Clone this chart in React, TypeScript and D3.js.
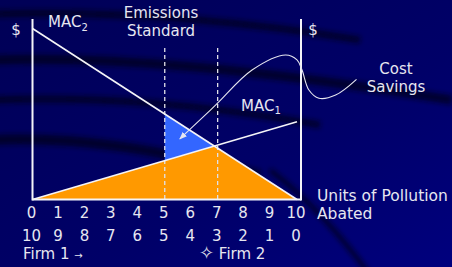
import React from 'react'
import * as d3 from 'd3'

// units abated by firm 1 (top row) and by firm 2 (bottom row)
const firm1Ticks = [0, 1, 2, 3, 4, 5, 6, 7, 8, 9, 10]
const firm2Ticks = [10, 9, 8, 7, 6, 5, 4, 3, 2, 1, 0]

// marginal abatement cost curves, [units, $]
const mac1 = [[0, 0], [10, 4.55]]
const mac2 = [[0, 10], [10, 0]]

// emissions standard: each firm abates 5 / 7
const standards = [5, 7]

// "Cost Savings" callout, in chart units (points of the hand drawn curve)
const calloutPts = [
  [12.25, 7.03], [11.46, 6.11], [10.83, 5.92], [10.45, 6.4], [10.19, 7.57],
  [10.0, 8.16], [9.57, 8.45], [8.3, 7.57], [6.93, 5.53], [5.92, 4.06], [5.57, 3.54],
]

const W = 452
const H = 267
const txt = '#e6e6f0'
const font = '"DejaVu Sans", Verdana, sans-serif'

export default function App() {
  const x = d3.scaleLinear().domain([0, 10]).range([32.5, 297])
  const y = d3.scaleLinear().domain([0, 10]).range([199.5, 28.5])

  const k = mac1[1][1] / mac1[1][0]
  const xi = mac2[0][1] / (1 + k) // where MAC1 meets MAC2
  const yi = k * xi
  const m1 = (v: number) => k * v
  const m2 = (v: number) => mac2[0][1] - v

  const line = d3.line<number[]>().x(d => x(d[0])).y(d => y(d[1]))
  const curve = d3.line<number[]>().x(d => x(d[0])).y(d => y(d[1])).curve(d3.curveCatmullRom.alpha(0.5))

  const orange = [[0, 0], [xi, yi], [10, 0]]
  const blue = [[standards[0], m2(standards[0])], [xi, yi], [standards[0], m1(standards[0])]]

  const rightAxis = x(10) + 4

  return (
    <svg width={W} height={H} style={{ position: 'absolute', left: 0, top: 0 }} fontFamily={font}>
      <defs>
        <linearGradient id="bg" x1="0" y1="0" x2="1" y2="1">
          <stop offset="0" stopColor="#000056" />
          <stop offset="0.6" stopColor="#000068" />
          <stop offset="1" stopColor="#00007e" />
        </linearGradient>
        <filter id="blur" x="-10%" y="-50%" width="120%" height="200%">
          <feGaussianBlur stdDeviation="2.5" />
        </filter>
        <marker id="arr" viewBox="0 0 10 10" refX="9" refY="5" markerWidth="7" markerHeight="7" orient="auto">
          <path d="M0,1 L10,5 L0,9 z" fill={txt} />
        </marker>
      </defs>
      <rect width={W} height={H} fill="url(#bg)" />
      {/* dark swooshes of the slide template */}
      <g fill="none" stroke="#000014" opacity={0.7} filter="url(#blur)">
        <path d="M-10,14 C120,10 250,22 360,40" strokeWidth={7} />
        <path d="M-10,60 C120,56 260,70 452,100" strokeWidth={9} />
        <path d="M-10,100 C100,96 200,104 320,125" strokeWidth={7} />
        <path d="M-10,140 C80,136 160,150 260,175" strokeWidth={10} />
        <path d="M270,170 C310,200 340,235 370,275" strokeWidth={5} />
      </g>

      <path d={line(orange) ?? ''} fill="#ff9900" />
      <path d={line(blue) ?? ''} fill="#3366ff" />

      {standards.map(s => (
        <line key={s} x1={x(s)} x2={x(s)} y1={48} y2={y(0)} stroke="#e0e0e8" strokeWidth={1.3} strokeDasharray="4,3" />
      ))}

      <path d={line(mac2) ?? ''} stroke="#f4f4f8" strokeWidth={1.6} fill="none" />
      <path d={line(mac1) ?? ''} stroke="#f4f4f8" strokeWidth={1.6} fill="none" />

      {/* axes */}
      <line x1={x(0)} x2={x(0)} y1={19} y2={y(0) + 1} stroke="#f4f4f8" strokeWidth={2} />
      <line x1={rightAxis} x2={rightAxis} y1={19} y2={y(0) + 1} stroke="#f4f4f8" strokeWidth={2} />
      <line x1={x(0)} x2={rightAxis} y1={y(0)} y2={y(0)} stroke="#f4f4f8" strokeWidth={2} />

      <path d={curve(calloutPts) ?? ''} fill="none" stroke={txt} strokeWidth={1.1} markerEnd="url(#arr)" />

      <g fill={txt} fontSize={15}>
        <text x={16} y={35} textAnchor="middle">$</text>
        <text x={rightAxis + 12} y={35} textAnchor="middle">$</text>
        <text x={48} y={27}>MAC<tspan fontSize={10} dy={3.5}>2</tspan></text>
        <text x={241} y={111}>MAC<tspan fontSize={10} dy={3}>1</tspan></text>
        <text x={161} y={17.5} textAnchor="middle">Emissions</text>
        <text x={161} y={36} textAnchor="middle">Standard</text>
        <text x={396} y={74} textAnchor="middle">Cost</text>
        <text x={396} y={92} textAnchor="middle">Savings</text>
        <text x={317} y={200.5} fontSize={15.5}>Units of Pollution</text>
        <text x={317} y={219} fontSize={15.5}>Abated</text>
        {firm1Ticks.map(t => (
          <text key={'a' + t} x={x(t) - 1} y={217.5} textAnchor="middle">{t}</text>
        ))}
        {firm2Ticks.map((t, i) => (
          <text key={'b' + i} x={x(firm1Ticks[i]) - 1} y={240.5} textAnchor="middle">{t}</text>
        ))}
        <text x={23} y={259}>Firm 1 <tspan fontSize={10}>→</tspan></text>
        <text x={199} y={259}><tspan fontSize={18}>✧</tspan> Firm 2</text>
      </g>
    </svg>
  )
}
